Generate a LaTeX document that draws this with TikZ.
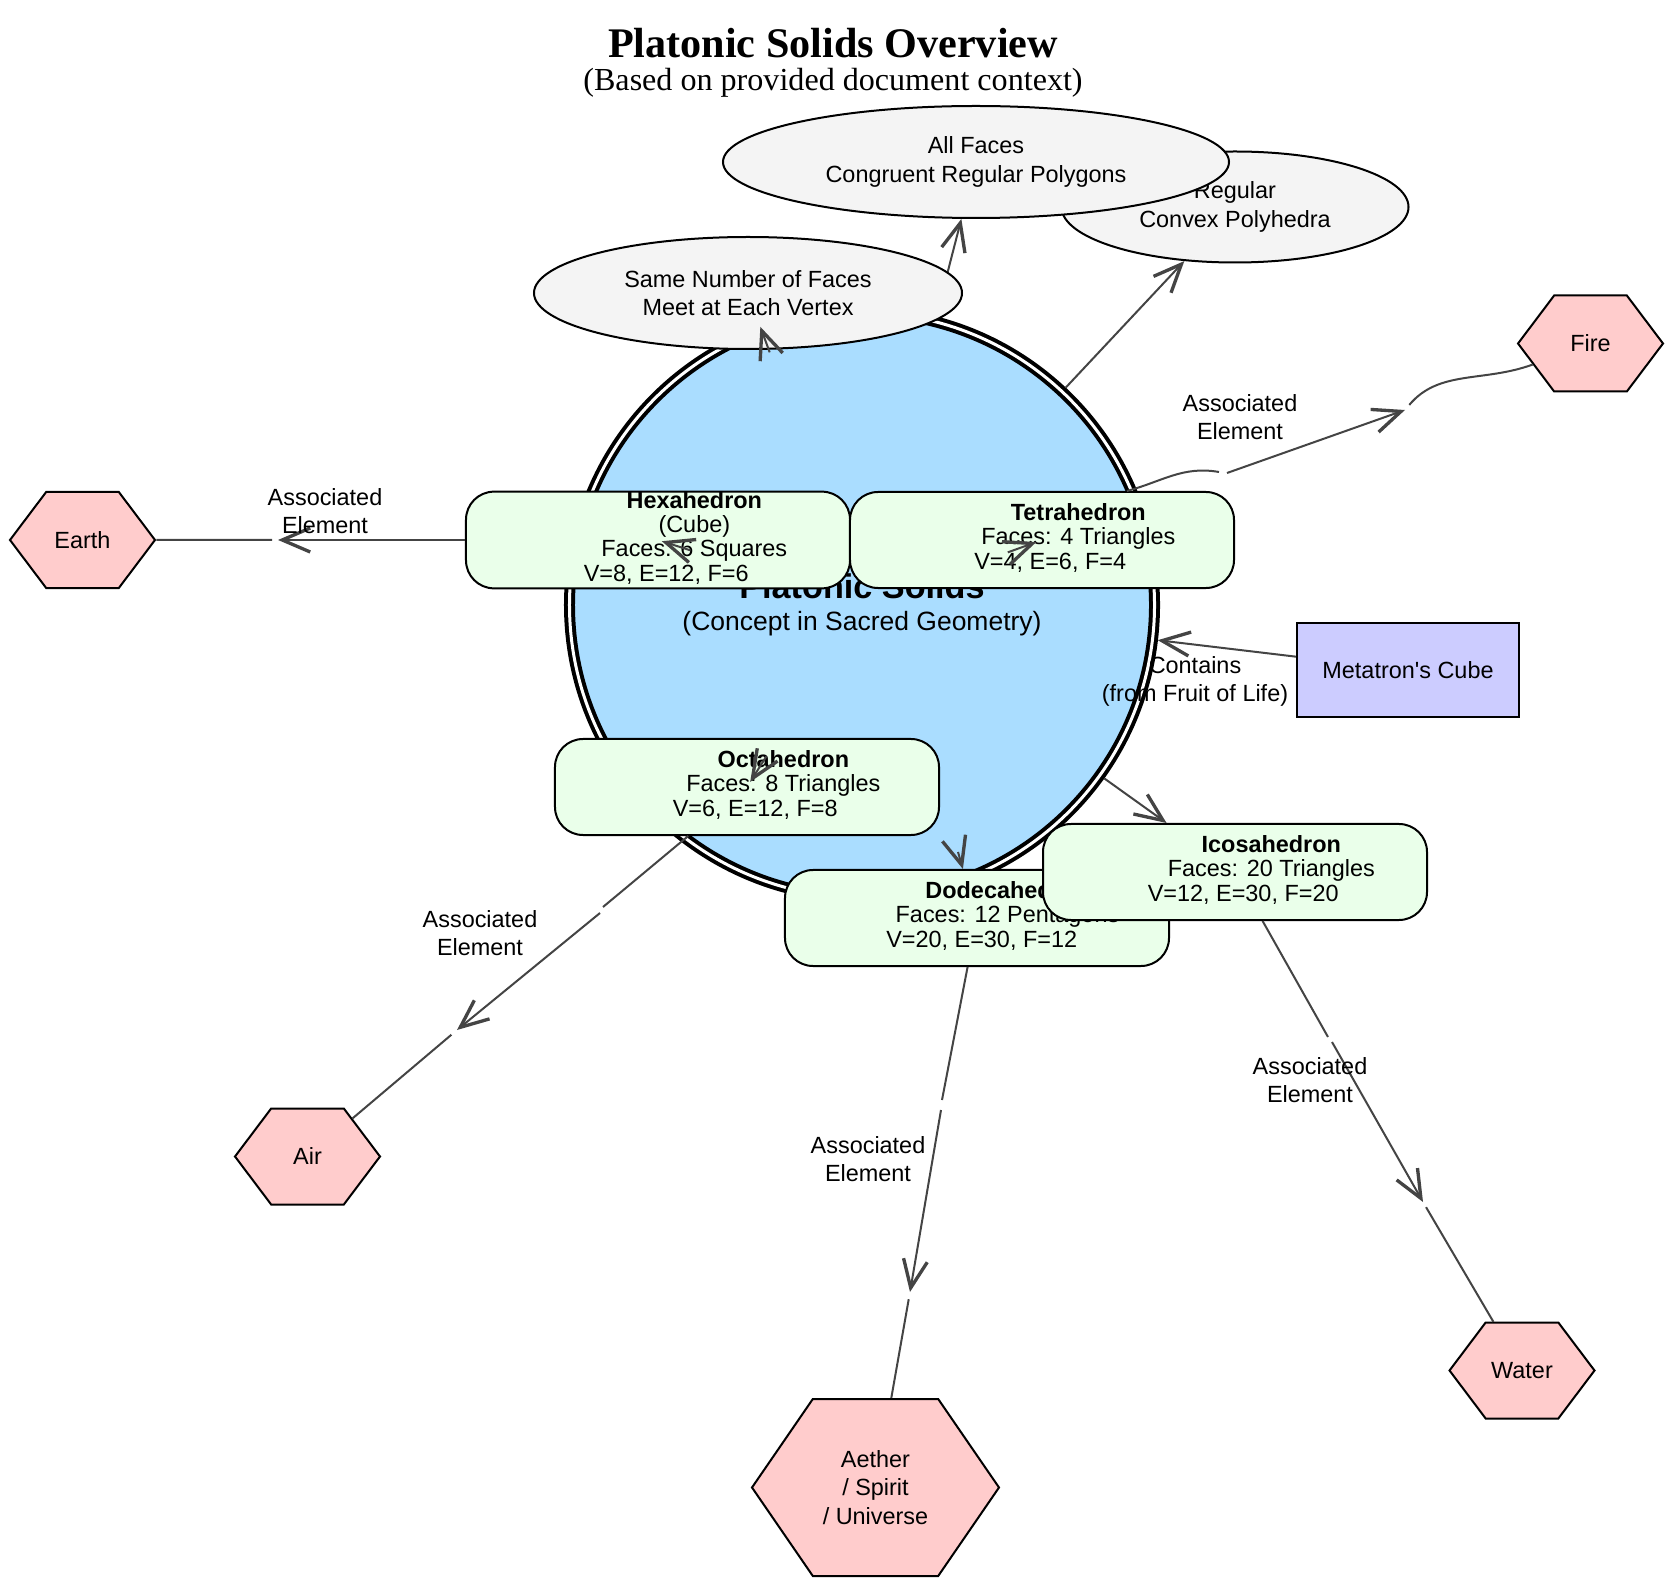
\documentclass[tikz,border=0pt]{standalone}
\usepackage{fontspec}
\setmainfont{Liberation Sans}
\newfontfamily\titlefont{Liberation Serif}
\usetikzlibrary{positioning,arrows.meta,shapes.geometric,shapes.symbols}

\definecolor{coreblue}{RGB}{170,221,255}
\definecolor{solidgreen}{RGB}{234,255,234}
\definecolor{elemred}{RGB}{255,204,204}
\definecolor{propgray}{RGB}{244,244,244}
\definecolor{cubeblue}{RGB}{204,204,255}
\definecolor{edgegray}{RGB}{68,68,68}

\begin{document}
\begin{tikzpicture}[
    x=0.15mm, y=0.15mm,
    font=\fontsize{10pt}{12pt}\selectfont,
    headline/.style={font=\titlefont\bfseries\fontsize{18pt}{22pt}\selectfont, inner sep=0pt},
    subline/.style={font=\titlefont\fontsize{13.7pt}{16pt}\selectfont, inner sep=0pt},
    core/.style={circle, draw, fill=coreblue, line width=0.6mm, double, double distance=0.45mm, minimum size=87.75mm, inner sep=0pt, outer sep=0.8mm, align=center, font=\fontsize{11.3pt}{13.6pt}\selectfont},
    prop/.style={ellipse, draw, fill=propgray, line width=0.3mm, inner sep=0pt, align=center},
    solidbox/.style={rectangle, rounded corners=4.2mm, draw, fill=solidgreen, line width=0.3mm, minimum width=57.6mm, minimum height=14.4mm, inner sep=0pt, font=\fontsize{10pt}{10.3pt}\selectfont},
    elem/.style={signal, signal to=east and west, signal pointer angle=106, draw, fill=elemred, line width=0.3mm, minimum width=21.75mm, minimum height=14.4mm, inner sep=0pt, align=center},
    cubebox/.style={rectangle, draw, fill=cubeblue, line width=0.3mm, minimum width=33.3mm, minimum height=14.1mm},
    link/.style={draw=edgegray, line width=0.3mm},
    arrow/.style={link, -{Straight Barb[length=4.2mm, width=3.6mm, line width=0.5mm]}},
    lbl/.style={align=center, inner sep=0pt}
]
\useasboundingbox (0,0) rectangle (1666,-1584);

% title
\node[headline] (head) at (833,-43) {Platonic Solids Overview};
\node[subline] (subhead) at (833,-82.5) {(Based on provided document context)};

% central concept
\node[core] (ps) at (862,-605) {{\bfseries\fontsize{14.6pt}{13.6pt}\selectfont Platonic Solids}\\(Concept in Sacred Geometry)};

% defining properties
\node[prop, minimum width=52.05mm, minimum height=16.65mm] (convex) at (1235,-207) {Regular\\Convex Polyhedra};
\node[prop, minimum width=75.9mm, minimum height=16.8mm] (allfaces) at (976,-162) {All Faces\\Congruent Regular Polygons};
\draw[arrow] (ps) -- (allfaces);
\draw[arrow] (ps) -- (convex);
\node[prop, minimum width=64.2mm, minimum height=16.8mm] (svert) at (748,-293) {Same Number of Faces\\Meet at Each Vertex};
\draw[arrow, shorten <=40.35mm, shorten >=5.4mm] (ps.center) -- (svert.center);

% metatron
\node[cubebox] (cube) at (1408,-670) {Metatron\textquotesingle s Cube};
\draw[arrow] (cube) -- (ps);
\node[lbl] (cubeLbl) at (1195,-681) {Contains\\(from Fruit of Life)};

% the five solids
\node[solidbox] (hexa) at (658,-540) {\hspace*{3.1em}\begin{tabular}{@{}c@{}}\textbf{Hexahedron}\\(Cube)\\Faces: 6 Squares\\V=8, E=12, F=6\hspace*{2.4em}\end{tabular}};
\node[solidbox] (tetra) at (1042,-540) {\hspace*{3.1em}\begin{tabular}{@{}c@{}}\textbf{Tetrahedron}\\Faces: 4 Triangles\\V=4, E=6, F=4\hspace*{2.4em}\end{tabular}};
\node[solidbox] (octa) at (747,-787) {\hspace*{3.1em}\begin{tabular}{@{}c@{}}\textbf{Octahedron}\\Faces: 8 Triangles\\V=6, E=12, F=8\hspace*{2.4em}\end{tabular}};
\node[solidbox] (dodeca) at (977,-918) {\hspace*{2.6em}\begin{tabular}{@{}c@{}}\textbf{Dodecahedron}\\Faces: 12 Pentagons\\V=20, E=30, F=12\hspace*{2.2em}\end{tabular}};
\node[solidbox] (ico) at (1235,-872) {\hspace*{3.1em}\begin{tabular}{@{}c@{}}\textbf{Icosahedron}\\Faces: 20 Triangles\\V=12, E=30, F=20\hspace*{2.4em}\end{tabular}};

\draw[arrow, shorten <=27mm, shorten >=0.6mm] (ps.center) -- (hexa.center);
\draw[arrow, shorten <=23.25mm, shorten >=0.9mm] (ps.center) -- (tetra.center);
\draw[arrow, shorten <=26.85mm, shorten >=0.9mm] (ps.center) -- (octa.center);
\coordinate (dodecaIn) at (958,-852);
\draw[arrow] (dodecaIn) -- (dodeca);
\draw[arrow] (ps) -- (ico);

% elements
\node[elem] (earth) at (82.5,-540) {Earth};
\node[elem] (fire) at (1590.5,-343.5) {Fire};
\node[elem] (air) at (307.5,-1156.5) {Air};
\node[elem] (water) at (1522,-1370.5) {Water};
\node[elem, signal pointer angle=111, minimum width=37.05mm, minimum height=26.55mm] (aether) at (875.5,-1487.5) {Aether\\/ Spirit\\/ Universe};

\coordinate (earthM) at (278,-540);
\draw[arrow] (hexa) -- (earthM);
\draw[link, shorten <=0.9mm] (earthM) -- (earth);
\node[lbl] (earthLbl) at (325,-511) {Associated\\Element};

\coordinate (fireA) at (1219,-472);
\coordinate (fireB) at (1227,-473);
\coordinate (fireM) at (1405,-410);
\draw[link] (tetra.30) to[out=15,in=170] (fireA);
\draw[arrow] (fireB) -- (fireM);
\draw[link, shorten <=1mm] (fireM) to[out=50,in=200] (fire);
\node[lbl] (fireLbl) at (1240,-417.5) {Associated\\Element};

\coordinate (airA) at (603,-907);
\coordinate (airB) at (600,-913);
\coordinate (airM) at (457,-1030);
\draw[link] (octa) -- (airA);
\draw[arrow] (airB) -- (airM);
\draw[link, shorten <=1.1mm] (airM) -- (air);
\node[lbl] (airLbl) at (480,-933.5) {Associated\\Element};

\coordinate (aethA) at (942,-1100);
\coordinate (aethB) at (941,-1110);
\coordinate (aethM) at (910,-1292);
\draw[link] (dodeca) -- (aethA);
\draw[arrow] (aethB) -- (aethM);
\draw[link, shorten <=1.1mm] (aethM) -- (aether);
\node[lbl] (aethLbl) at (868,-1159.5) {Associated\\Element};

\coordinate (watA) at (1328,-1037);
\coordinate (watB) at (1332,-1042);
\coordinate (watM) at (1423,-1202);
\draw[link] (ico) -- (watA);
\draw[arrow] (watB) -- (watM);
\draw[link, shorten <=0.9mm] (watM) -- (water);
\node[lbl] (watLbl) at (1310,-1080.5) {Associated\\Element};
\end{tikzpicture}
\end{document}
